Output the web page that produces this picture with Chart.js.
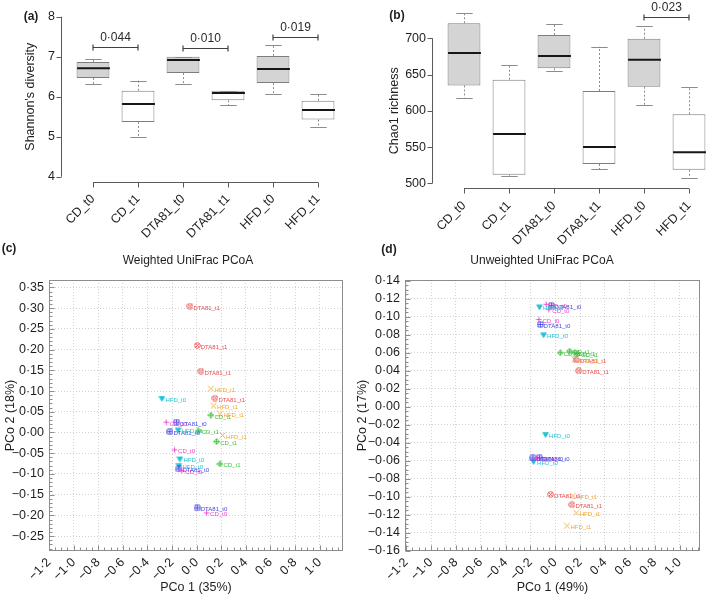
<!DOCTYPE html>
<html><head><meta charset="utf-8">
<script src="https://cdn.jsdelivr.net/npm/chart.js@4.4.1/dist/chart.umd.min.js"></script>
<style>
html,body{margin:0;padding:0;background:#fff;}
#wrap{position:relative;width:709px;height:595px;overflow:hidden;font-family:"Liberation Sans",Arial,sans-serif;}
canvas{position:absolute;left:0;top:0;}
.lbl{position:absolute;transform:translate(-50%,-50%);white-space:nowrap;color:#1e1e1e;font-size:12px;line-height:14px;}
.pl{font-weight:bold;}
</style></head><body>
<div id="wrap">
<canvas id="ca" width="709" height="595"></canvas>
<canvas id="cb" width="709" height="595"></canvas>
<canvas id="cc" width="709" height="595"></canvas>
<canvas id="cd" width="709" height="595"></canvas>
<div class="lbl pl" style="left:31px;top:16px">(a)</div>
<div class="lbl pl" style="left:397px;top:15px">(b)</div>
<div class="lbl pl" style="left:9px;top:248px">(c)</div>
<div class="lbl pl" style="left:389px;top:249px">(d)</div>
<div class="lbl" style="left:188px;top:260px">Weighted UniFrac PCoA</div>
<div class="lbl" style="left:542px;top:260px">Unweighted UniFrac PCoA</div>
</div>
<script>
// ---------- data ----------
const groups = ['CD_t0','CD_t1','DTA81_t0','DTA81_t1','HFD_t0','HFD_t1'];

const shannonMin = [6.32, 5.00, 6.32, 5.78, 6.06, 5.23];
const shannonQ1  = [6.47, 5.37, 6.59, 5.91, 6.34, 5.43];
const shannonMed = [6.71, 5.82, 6.92, 6.09, 6.69, 5.67];
const shannonQ3  = [6.87, 6.15, 7.00, 6.15, 7.02, 5.90];
const shannonMax = [6.95, 6.40, 7.00, 6.15, 7.30, 6.08];
const shannonPFrom = ['CD_t0','DTA81_t0','HFD_t0'];
const shannonPTo   = ['CD_t1','DTA81_t1','HFD_t1'];
const shannonPAt   = [7.23, 7.21, 7.48];
const shannonPText = ['0·044','0·010','0·019'];

const chaoMin = [618.0, 510.5, 655.0, 519.7, 608.0, 507.8];
const chaoQ1  = [635.0, 511.9, 658.6, 526.6, 633.3, 518.8];
const chaoMed = [679.8, 568.0, 675.6, 550.0, 670.5, 542.8];
const chaoQ3  = [720.7, 642.9, 704.6, 627.3, 699.4, 595.2];
const chaoMax = [734.5, 663.7, 719.7, 688.5, 716.6, 633.3];
const chaoPFrom = ['HFD_t0'];
const chaoPTo   = ['HFD_t1'];
const chaoPAt   = [729];
const chaoPText = ['0·023'];

// Weighted UniFrac PCoA  [PCo1, PCo2]
const wCD_t0    = [[-0.247,0.025],[-0.179,-0.042],[-0.120,-0.092],[0.081,-0.194]];
const wCD_t1    = [[0.116,0.042],[0.163,-0.022],[0.190,-0.076],[0.013,0.004]];
const wDTA81_t0 = [[-0.163,0.025],[-0.217,0.002],[-0.144,-0.088],[0.005,-0.182]];
const wDTA81_t1 = [[-0.054,0.305],[0.005,0.210],[0.035,0.148],[0.149,0.083]];
const wHFD_t0   = [[-0.282,0.082],[-0.150,0.006],[-0.136,-0.064],[-0.144,-0.080]];
const wHFD_t1   = [[0.116,0.106],[0.138,0.064],[0.190,0.045],[0.211,-0.007]];

// Unweighted UniFrac PCoA  [PCo1, PCo2]
const uCD_t0    = [[-0.073,0.114],[-0.052,0.108],[-0.132,0.097],[-0.153,-0.057]];
const uCD_t1    = [[0.040,0.060],[0.115,0.062],[0.156,0.060],[0.180,0.059]];
const uDTA81_t0 = [[-0.032,0.1125],[-0.121,0.0915],[-0.180,-0.057],[-0.127,-0.057]];
const uDTA81_t1 = [[0.168,0.052],[0.188,0.040],[-0.038,-0.0975],[0.134,-0.109]];
const uHFD_t0   = [[-0.127,0.111],[-0.094,0.080],[-0.078,-0.031],[-0.175,-0.061]];
const uHFD_t1   = [[0.155,0.0525],[0.142,-0.099],[0.169,-0.118],[0.094,-0.1325]];

const shannonTickStep = 1, chaoTickStep = 50;
const pcoXStep = 0.2, wYStep = 0.05, uYStep = 0.02;

// ---------- styling ----------
const FONT = '"Liberation Sans", Arial, Helvetica, sans-serif';
Chart.defaults.font.family = FONT;
Chart.defaults.color = '#1e1e1e';
const groupColor = {CD_t0:'#ee40d2', CD_t1:'#3cc23c', DTA81_t0:'#4646e6', DTA81_t1:'#ec4a4a', HFD_t0:'#26c2d4', HFD_t1:'#f3a628'};
const groupMarker = {CD_t0:'plus', CD_t1:'dia', DTA81_t0:'sq', DTA81_t1:'cx', HFD_t0:'tri', HFD_t1:'x'};
const CLEAR = 'rgba(0,0,0,0)';

function mk(kind,color){
  const c=document.createElement('canvas'); c.width=7; c.height=7;
  const g=c.getContext('2d'); g.strokeStyle=color; g.fillStyle=color; g.lineWidth=0.9;
  const m=3.5, r=2.8; g.beginPath();
  if(kind==='plus'){g.moveTo(m-r,m);g.lineTo(m+r,m);g.moveTo(m,m-r);g.lineTo(m,m+r);}
  else if(kind==='x'){g.moveTo(m-r,m-r);g.lineTo(m+r,m+r);g.moveTo(m+r,m-r);g.lineTo(m-r,m+r);}
  else if(kind==='tri'){g.moveTo(m-r,m-r*0.7);g.lineTo(m+r,m-r*0.7);g.lineTo(m,m+r);g.closePath();g.fill();}
  else if(kind==='sq'){g.rect(m-r+0.3,m-r+0.3,2*r-0.6,2*r-0.6);g.moveTo(m,m-r);g.lineTo(m,m+r);g.moveTo(m-r,m);g.lineTo(m+r,m);}
  else if(kind==='dia'){g.moveTo(m,m-r);g.lineTo(m+r,m);g.lineTo(m,m+r);g.lineTo(m-r,m);g.closePath();g.moveTo(m,m-r);g.lineTo(m,m+r);g.moveTo(m-r,m);g.lineTo(m+r,m);}
  else if(kind==='cx'){g.arc(m,m,r,0,Math.PI*2);g.moveTo(m-r*0.7,m-r*0.7);g.lineTo(m+r*0.7,m+r*0.7);g.moveTo(m+r*0.7,m-r*0.7);g.lineTo(m-r*0.7,m+r*0.7);}
  g.stroke(); return c;
}

function dec(v, d){ const s = Math.abs(v).toFixed(d).replace('.', '·'); return (v < -1e-9 ? '−' : '') + s; }

// ---------- box plot helpers ----------
function boxExtras(mins,q1s,meds,q3s,maxs,pFrom,pTo,pAt,pTxt){
  return {id:'boxExtras', afterDatasetsDraw(chart){
    const ctx=chart.ctx, xs=chart.scales.x, ys=chart.scales.y, ca=chart.chartArea;
    const meta=chart.getDatasetMeta(0);
    const L=(x1,y1,x2,y2)=>{ctx.beginPath();ctx.moveTo(x1,y1);ctx.lineTo(x2,y2);ctx.stroke();};
    ctx.save();
    groups.forEach((g,i)=>{
      const bar=meta.data[i]; const cx=Math.round(bar.x)+0.5; const hw=bar.width/2;
      const yMin=ys.getPixelForValue(mins[i]), yMax=ys.getPixelForValue(maxs[i]);
      const yQ1=ys.getPixelForValue(q1s[i]), yQ3=ys.getPixelForValue(q3s[i]), yMed=ys.getPixelForValue(meds[i]);
      ctx.strokeStyle='#8c8c8c'; ctx.lineWidth=1; ctx.setLineDash([2,2]);
      if(yMax<yQ3-1) L(cx,yQ3,cx,yMax);
      if(yMin>yQ1+1) L(cx,yQ1,cx,yMin);
      ctx.setLineDash([]);
      L(cx-hw/2,Math.round(yMax)+0.5,cx+hw/2,Math.round(yMax)+0.5);
      L(cx-hw/2,Math.round(yMin)+0.5,cx+hw/2,Math.round(yMin)+0.5);
      ctx.strokeStyle='#161616'; ctx.lineWidth=2;
      L(cx-hw,yMed,cx+hw,yMed);
    });
    // R-style detached axes
    ctx.strokeStyle='#5a5a5a'; ctx.lineWidth=1;
    const ax=Math.round(ca.left-32)+0.5;
    const t=ys.ticks; const yTop=ys.getPixelForValue(t[t.length-1].value), yBot=ys.getPixelForValue(t[0].value);
    L(ax,yTop,ax,yBot);
    t.forEach(tk=>{const yy=Math.round(ys.getPixelForValue(tk.value))+0.5; L(ax-5,yy,ax,yy);});
    const ay=Math.round(ca.bottom+5)+0.5;
    const x0=xs.getPixelForValue(0), x1=xs.getPixelForValue(groups.length-1);
    L(x0,ay,x1,ay);
    groups.forEach((g,i)=>{const xx=Math.round(xs.getPixelForValue(i))+0.5; L(xx,ay,xx,ay+5);});
    // significance brackets
    ctx.strokeStyle='#404040'; ctx.lineWidth=1.2; ctx.fillStyle='#2a2a2a';
    ctx.font='12px '+FONT; ctx.textAlign='center'; ctx.textBaseline='middle';
    pFrom.forEach((f,k)=>{
      const xa=xs.getPixelForValue(groups.indexOf(f)), xb=xs.getPixelForValue(groups.indexOf(pTo[k]));
      const yy=Math.round(ys.getPixelForValue(pAt[k]))+0.5;
      L(xa,yy,xb,yy); L(xa,yy-3,xa,yy+3); L(xb,yy-3,xb,yy+3);
      ctx.fillText(pTxt[k],(xa+xb)/2,yy-9.5);
    });
    ctx.restore();
  }};
}

function boxChart(id, area, q1s, q3s, yMin, yMax, yStep, yTitle, extras, yTitlePad){
  return new Chart(document.getElementById(id), {
    type:'bar',
    data:{labels:groups, datasets:[{
      data: groups.map((g,i)=>[q1s[i], q3s[i]]),
      backgroundColor: groups.map(g=>g.endsWith('t0')?'#d4d4d4':'#ffffff'),
      borderColor:'#7d7d7d', borderWidth:1, borderSkipped:false,
      barPercentage:0.73, categoryPercentage:1, clip:false
    }]},
    options:{
      responsive:false, animation:false, events:[],
      layout:{padding:{left:area.padL, top:area.top, right:709-area.right, bottom:595-area.bottom-70}},
      plugins:{legend:{display:false}, tooltip:{enabled:false}},
      scales:{
        x:{offset:false, border:{display:false},
           grid:{display:true, drawOnChartArea:false, drawTicks:true, tickLength:8, color:CLEAR},
           ticks:{minRotation:45, maxRotation:45, autoSkip:false, padding:7, color:'#1e1e1e', font:{size:12.5}},
           afterFit(s){ s.height=70; }},
        y:{min:yMin, max:yMax, border:{display:false},
           grid:{display:true, drawOnChartArea:false, drawTicks:true, tickLength:33, color:CLEAR},
           ticks:{stepSize:yStep, padding:5, color:'#1e1e1e', font:{size:12.5}},
           title:{display:true, text:yTitle, color:'#1e1e1e', font:{size:12.5}, padding:{top:yTitlePad, bottom:0}},
           afterFit(s){ s.width=area.left-area.padL; }}
      }
    },
    plugins:[extras]
  });
}

boxChart('ca', {padL:20, left:93, right:318, top:16.7, bottom:176.7}, shannonQ1, shannonQ3, 4, 8, shannonTickStep,
  "Shannon's diversity",
  boxExtras(shannonMin,shannonQ1,shannonMed,shannonQ3,shannonMax,shannonPFrom,shannonPTo,shannonPAt,shannonPText), 3.5);

boxChart('cb', {padL:384, left:464, right:689, top:38.3, bottom:183.3}, chaoQ1, chaoQ3, 500, 700, chaoTickStep,
  'Chao1 richness',
  boxExtras(chaoMin,chaoQ1,chaoMed,chaoQ3,chaoMax,chaoPFrom,chaoPTo,chaoPAt,chaoPText), 3.5);

// ---------- PCoA helpers ----------
const ptLabels = {id:'ptLabels', afterDatasetsDraw(chart){
  const ctx=chart.ctx; ctx.save(); ctx.font='6px '+FONT; ctx.textBaseline='middle'; ctx.textAlign='left';
  chart.data.datasets.forEach((ds,i)=>{
    chart.getDatasetMeta(i).data.forEach(el=>{ ctx.fillStyle=ds.borderColor; ctx.fillText(ds.label, el.x+3.5, el.y+1.8); });
  });
  ctx.restore();
}};

function framePlugin(xMinor, yMinor){
  return {id:'frame', beforeDatasetsDraw(chart){
    const ctx=chart.ctx, ca=chart.chartArea, xs=chart.scales.x, ys=chart.scales.y;
    const L=(x1,y1,x2,y2)=>{ctx.beginPath();ctx.moveTo(x1,y1);ctx.lineTo(x2,y2);ctx.stroke();};
    ctx.save(); ctx.strokeStyle='#8d8d8d'; ctx.lineWidth=1;
    const l=Math.round(ca.left)+0.5, r=Math.round(ca.right)-0.5, t=Math.round(ca.top)+0.5, b=Math.round(ca.bottom)-0.5;
    ctx.strokeRect(l,t,r-l,b-t);
    const xt=xs.ticks.map(k=>k.value), yt=ys.ticks.map(k=>k.value);
    for(let v=Math.ceil(xs.min/xMinor)*xMinor; v<=xs.max+1e-9; v+=xMinor){
      const isMaj = xt.some(m=>Math.abs(m-v)<1e-6); const xx=Math.round(xs.getPixelForValue(v))+0.5;
      L(xx,b,xx,b-(isMaj?5:3));
    }
    for(let v=Math.ceil(ys.min/yMinor)*yMinor; v<=ys.max+1e-9; v+=yMinor){
      const isMaj = yt.some(m=>Math.abs(m-v)<1e-6); const yy=Math.round(ys.getPixelForValue(v))+0.5;
      L(l,yy,l+(isMaj?5:3),yy);
    }
    ctx.restore();
  }};
}

function pcoaChart(id, area, xMin, xMax, yMin, yMax, yStep, yDig, sets, xTitle, yTitle, yMinor){
  const datasets = groups.map((g,i)=>({
    label:g, data:sets[i].map(p=>({x:p[0], y:p[1]})),
    borderColor:groupColor[g], backgroundColor:groupColor[g],
    pointStyle:mk(groupMarker[g], groupColor[g]), pointRadius:3.5
  }));
  return new Chart(document.getElementById(id), {
    type:'scatter',
    data:{datasets},
    options:{
      responsive:false, animation:false, events:[],
      layout:{padding:{left:area.padL, top:area.top, right:709-area.right, bottom:0}},
      plugins:{legend:{display:false}, tooltip:{enabled:false}},
      scales:{
        x:{type:'linear', min:xMin, max:xMax,
           grid:{color:'#d2d2d2', lineWidth:1, drawTicks:false}, border:{display:false, dash:[1,2]},
           ticks:{stepSize:pcoXStep, includeBounds:false, minRotation:45, maxRotation:45, autoSkip:false, padding:4,
                  color:'#1e1e1e', font:{size:12.5}, callback:(v)=>dec(v,1)},
           title:{display:true, text:xTitle, color:'#1e1e1e', font:{size:12.5}, padding:{top:0,bottom:0}},
           afterFit(s){ s.height=595-area.bottom; }},
        y:{type:'linear', min:yMin, max:yMax,
           grid:{color:'#d2d2d2', lineWidth:1, drawTicks:false}, border:{display:false, dash:[1,2]},
           ticks:{stepSize:yStep, includeBounds:false, padding:5, color:'#1e1e1e', font:{size:12.5}, callback:(v)=>dec(v,yDig)},
           title:{display:true, text:yTitle, color:'#1e1e1e', font:{size:12.5}, padding:{top:3,bottom:0}},
           afterFit(s){ s.width=area.left-area.padL; }}
      }
    },
    plugins:[framePlugin(0.05, yMinor), ptLabels]
  });
}

pcoaChart('cc', {padL:0, left:49, right:343, top:280, bottom:551}, -1.2001, 1.19, -0.286, 0.368, wYStep, 2,
  [wCD_t0, wCD_t1, wDTA81_t0, wDTA81_t1, wHFD_t0, wHFD_t1], 'PCo 1 (35%)', 'PCo 2 (18%)', 0.01);

pcoaChart('cd', {padL:352, left:405, right:700, top:280, bottom:551}, -1.21, 1.165, -0.1605, 0.141, uYStep, 2,
  [uCD_t0, uCD_t1, uDTA81_t0, uDTA81_t1, uHFD_t0, uHFD_t1], 'PCo 1 (49%)', 'PCo 2 (17%)', 0.005);
</script>
</body></html>
